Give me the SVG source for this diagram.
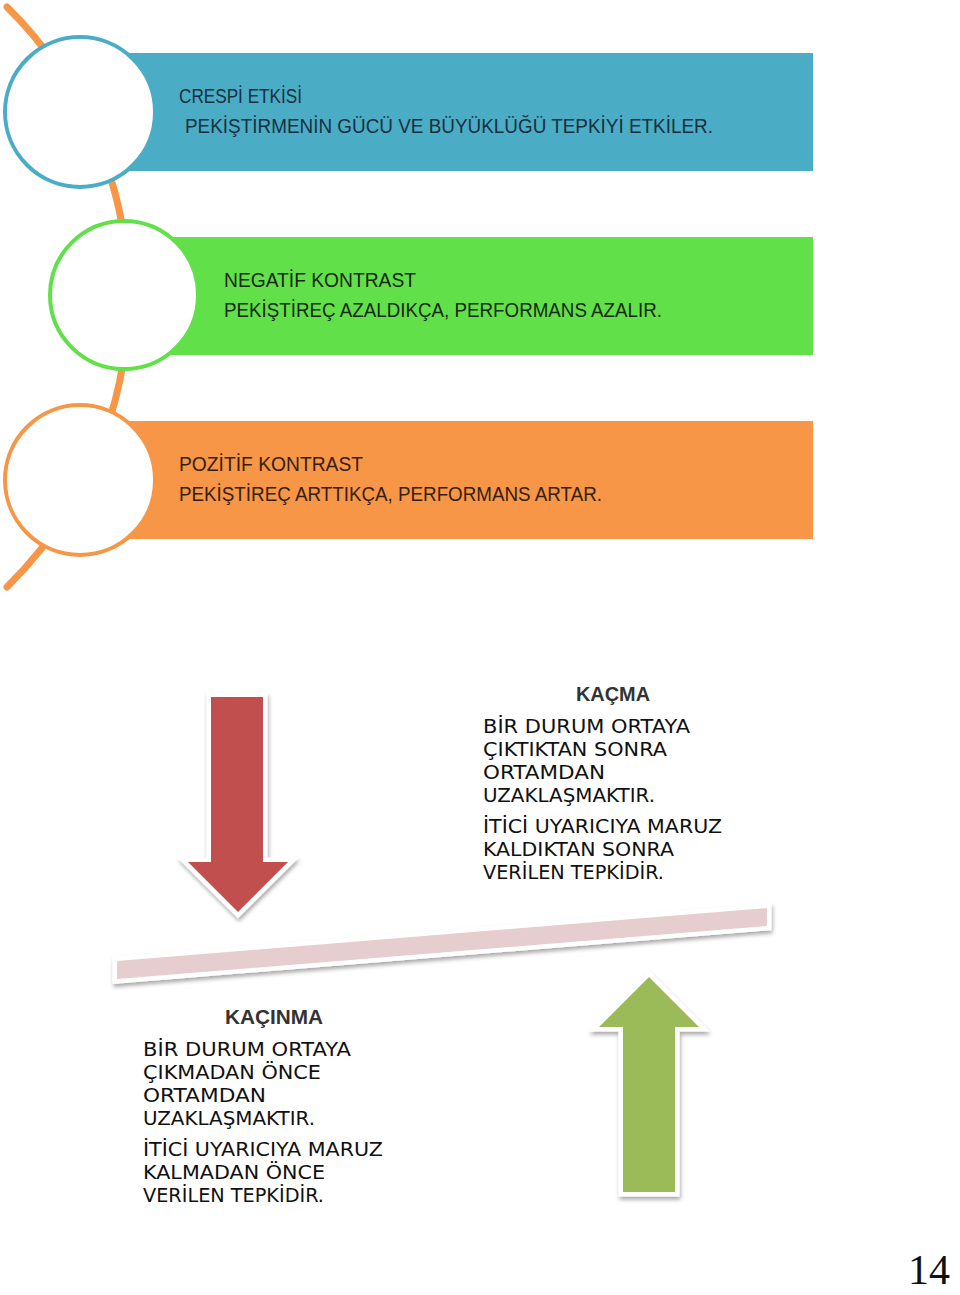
<svg xmlns="http://www.w3.org/2000/svg" width="960" height="1295" viewBox="0 0 960 1295">
<defs>
<filter id="sh" x="-20%" y="-20%" width="140%" height="140%">
<feGaussianBlur in="SourceAlpha" stdDeviation="2"/>
<feOffset dx="1" dy="3" result="b"/>
<feComponentTransfer><feFuncA type="linear" slope="0.35"/></feComponentTransfer>
<feMerge><feMergeNode/><feMergeNode in="SourceGraphic"/></feMerge>
</filter>
</defs>
<style>
.t{font-family:"Liberation Sans","DejaVu Sans",sans-serif;font-size:20px}
.b{font-family:"DejaVu Sans","Liberation Sans",sans-serif;font-size:19px;fill:#111}
.h{font-family:"Liberation Sans","DejaVu Sans",sans-serif;font-size:20px;fill:#333;font-weight:bold}
.ring{fill:#fff;stroke-width:4}
.arw{stroke:#fff;stroke-width:9;stroke-linejoin:miter;paint-order:stroke}
</style>
<rect width="960" height="1295" fill="#fff"/>
<g id="connectors">
<path d="M 7 7 A 407 407 0 0 1 7 587" fill="none" stroke="#F79646" stroke-width="7" stroke-linecap="round"/>
</g>
<g id="node-crespi">
<rect x="80" y="53" width="733" height="118" fill="#4BACC6"/>
<circle cx="80" cy="112" r="75" class="ring" stroke="#4BACC6"/>
<text class="t" fill="#17303F" x="179" y="103" textLength="123" lengthAdjust="spacingAndGlyphs">CRESPİ ETKİSİ</text>
<text class="t" fill="#17303F" x="185" y="133" textLength="528" lengthAdjust="spacingAndGlyphs">PEKİŞTİRMENİN GÜCÜ VE BÜYÜKLÜĞÜ TEPKİYİ ETKİLER.</text>
</g>
<g id="node-negatif">
<rect x="124" y="237" width="689" height="118" fill="#62E04A"/>
<circle cx="124" cy="295" r="74" class="ring" stroke="#62E04A"/>
<text class="t" fill="#15290F" x="224" y="287" textLength="192" lengthAdjust="spacingAndGlyphs">NEGATİF KONTRAST</text>
<text class="t" fill="#15290F" x="224" y="317" textLength="438" lengthAdjust="spacingAndGlyphs">PEKİŞTİREÇ AZALDIKÇA, PERFORMANS AZALIR.</text>
</g>
<g id="node-pozitif">
<rect x="80" y="421" width="733" height="118" fill="#F79646"/>
<circle cx="80" cy="480" r="75" class="ring" stroke="#F79646"/>
<text class="t" fill="#35200F" x="179" y="471" textLength="184" lengthAdjust="spacingAndGlyphs">POZİTİF KONTRAST</text>
<text class="t" fill="#35200F" x="179" y="501" textLength="423" lengthAdjust="spacingAndGlyphs">PEKİŞTİREÇ ARTTIKÇA, PERFORMANS ARTAR.</text>
</g>
<g id="arrow-down" filter="url(#sh)">
<polygon class="arw" fill="#C0504D" points="211,697 263,697 263,862 288,862 238,912 188,862 211,862"/>
</g>
<g id="bar" filter="url(#sh)">
<polygon fill="#E6CDD0" stroke="#fff" stroke-width="9" stroke-linejoin="miter" paint-order="stroke" points="117,961 767,908 767,926 117,979"/>
</g>
<g id="arrow-up" filter="url(#sh)">
<polygon class="arw" fill="#9BBB59" points="649,977 699,1027 675,1027 675,1192 623,1192 623,1027 599,1027"/>
</g>
<g id="node-kacma">
<text class="h" x="613" y="701" text-anchor="middle" textLength="74" lengthAdjust="spacingAndGlyphs">KAÇMA</text>
<text class="b" x="483" y="733" textLength="207" lengthAdjust="spacingAndGlyphs">BİR DURUM ORTAYA</text>
<text class="b" x="483" y="756" textLength="184" lengthAdjust="spacingAndGlyphs">ÇIKTIKTAN SONRA</text>
<text class="b" x="483" y="779" textLength="122" lengthAdjust="spacingAndGlyphs">ORTAMDAN</text>
<text class="b" x="483" y="802" textLength="172" lengthAdjust="spacingAndGlyphs">UZAKLAŞMAKTIR.</text>
<text class="b" x="483" y="833" textLength="239" lengthAdjust="spacingAndGlyphs">İTİCİ UYARICIYA MARUZ</text>
<text class="b" x="483" y="856" textLength="191" lengthAdjust="spacingAndGlyphs">KALDIKTAN SONRA</text>
<text class="b" x="483" y="879" textLength="181" lengthAdjust="spacingAndGlyphs">VERİLEN TEPKİDİR.</text>
</g>
<g id="node-kacinma">
<text class="h" x="274" y="1024" text-anchor="middle" textLength="98" lengthAdjust="spacingAndGlyphs">KAÇINMA</text>
<text class="b" x="143" y="1056" textLength="208" lengthAdjust="spacingAndGlyphs">BİR DURUM ORTAYA</text>
<text class="b" x="143" y="1079" textLength="178" lengthAdjust="spacingAndGlyphs">ÇIKMADAN ÖNCE</text>
<text class="b" x="143" y="1102" textLength="123" lengthAdjust="spacingAndGlyphs">ORTAMDAN</text>
<text class="b" x="143" y="1125" textLength="172" lengthAdjust="spacingAndGlyphs">UZAKLAŞMAKTIR.</text>
<text class="b" x="143" y="1156" textLength="240" lengthAdjust="spacingAndGlyphs">İTİCİ UYARICIYA MARUZ</text>
<text class="b" x="143" y="1179" textLength="182" lengthAdjust="spacingAndGlyphs">KALMADAN ÖNCE</text>
<text class="b" x="143" y="1202" textLength="181" lengthAdjust="spacingAndGlyphs">VERİLEN TEPKİDİR.</text>
</g>
<text x="908" y="1284" font-family="Liberation Serif, serif" font-size="42" fill="#111">14</text>
</svg>
